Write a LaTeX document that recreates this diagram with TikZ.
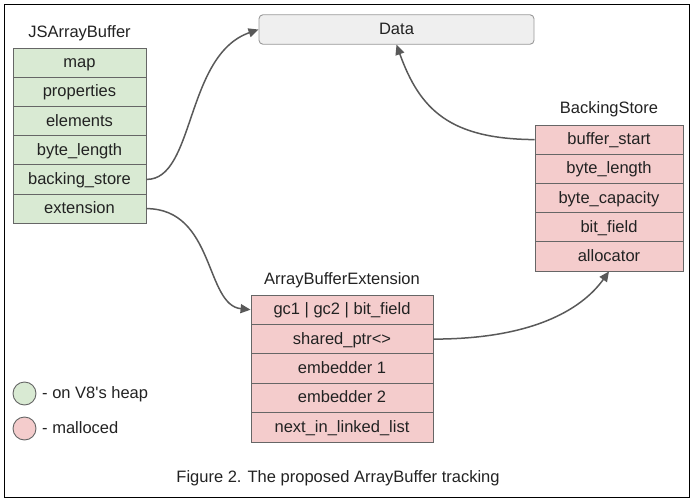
\documentclass[tikz,border=0pt]{standalone}
\usepackage{fontspec}
\newfontfamily\diafont{Liberation Sans}
\usetikzlibrary{arrows.meta}
\definecolor{heapfill}{HTML}{D9EAD3}
\definecolor{mallocfill}{HTML}{F4CCCC}
\definecolor{cellborder}{HTML}{666666}
\definecolor{datafill}{HTML}{EFEFEF}
\definecolor{databorder}{HTML}{999999}
\definecolor{arrowcol}{HTML}{595959}
\definecolor{txt}{HTML}{222222}
\tikzset{
  cell/.style={draw=cellborder, line width=0.9pt, inner sep=0pt, text=txt,
    font=\diafont\fontsize{16.5}{18}\selectfont, text height=13pt, text depth=3pt, anchor=center},
  heapcell/.style={cell, fill=heapfill, minimum width=133pt, minimum height=29.2pt},
  bscell/.style={cell, fill=mallocfill, minimum width=148pt, minimum height=29.2pt},
  extcell/.style={cell, fill=mallocfill, minimum width=182pt, minimum height=29.4pt},
  title/.style={text=txt, font=\diafont\fontsize{16.5}{18}\selectfont, text height=13pt, text depth=3pt, inner sep=0pt},
  arr/.style={draw=arrowcol, line width=1.5pt, -{Triangle[length=10pt,width=9pt]}},
  legendcirc/.style={circle, draw=cellborder, line width=0.9pt, minimum size=23pt, inner sep=0pt},
}
\begin{document}
\begin{tikzpicture}[x=1pt,y=-1pt]
\useasboundingbox (0,0) rectangle (694,501);
\draw[black, line width=1pt] (4,4) rectangle (689,497);

% JSArrayBuffer
\node[title] (jst) at (79.5,32) {JSArrayBuffer};
\node[heapcell] (map) at (79.5,62.6) {map};
\node[heapcell] (prop) at (79.5,91.8) {properties};
\node[heapcell] (elem) at (79.5,121.0) {elements};
\node[heapcell] (blen) at (79.5,150.2) {byte\_length};
\node[heapcell] (bst) at (79.5,179.4) {backing\_store};
\node[heapcell] (ext) at (79.5,208.6) {extension};

% Data
\node[draw=databorder, fill=datafill, line width=0.9pt, rounded corners=4pt,
  minimum width=275pt, minimum height=29.5pt, inner sep=0pt, text=txt,
  font=\diafont\fontsize{16.5}{18}\selectfont, text height=13pt, text depth=3pt] (data) at (396.5,29.5) {Data};

% BackingStore
\node[title] (bstt) at (609,108) {BackingStore};
\node[bscell] (bs1) at (609,139.6) {buffer\_start};
\node[bscell] (bs2) at (609,168.8) {byte\_length};
\node[bscell] (bs3) at (609,198.0) {byte\_capacity};
\node[bscell] (bs4) at (609,227.2) {bit\_field};
\node[bscell] (bs5) at (609,256.4) {allocator};

% ArrayBufferExtension
\node[title] (extt) at (342,279) {ArrayBufferExtension};
\node[extcell] (e1) at (342,309.7) {gc1 | gc2 | bit\_field};
\node[extcell] (e2) at (342,339.1) {shared\_ptr<>};
\node[extcell] (e3) at (342,368.5) {embedder 1};
\node[extcell] (e4) at (342,397.9) {embedder 2};
\node[extcell] (e5) at (342,427.3) {next\_in\_linked\_list};

% Arrows
\draw[arr] (bst.east) .. controls (195,180) and (185,55) .. (data.west);
\draw[arr] (ext.east) .. controls (215,209) and (205,305) .. (e1.west);
\draw[arr] (e2.east) .. controls (540,339) and (585,305) .. (bs5.south);
\draw[arr] (bs1.west) .. controls (450,139) and (420,110) .. (data.south);

% Legend
\node[legendcirc, fill=heapfill] (lg1) at (24.5,393.5) {};
\node[title, anchor=west] (lt1) at (42,393.5) {- on V8's heap};
\node[legendcirc, fill=mallocfill] (lg2) at (24.5,428.5) {};
\node[title, anchor=west] (lt2) at (42,428.5) {- malloced};

% Caption
\node[title] (cap) at (338,477) {Figure 2. The proposed ArrayBuffer tracking};
\end{tikzpicture}
\end{document}
